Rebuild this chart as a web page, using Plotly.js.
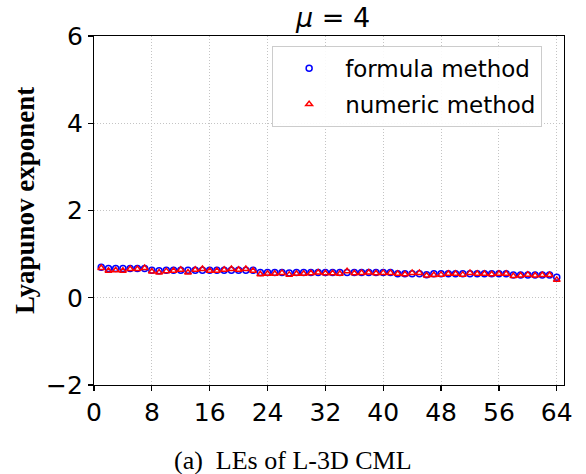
<!DOCTYPE html>
<html>
<head>
<meta charset="utf-8">
<script src="https://cdn.plot.ly/plotly-3.0.1.min.js"></script>
<style>html,body{margin:0;padding:0;background:#fff;}#chart{width:586px;height:474px;}</style>
</head>
<body>
<div id="chart"></div>
<script>
const idx = [];
for (let i = 1; i <= 64; i++) idx.push(i);
const formulaLE = [0.70,0.67,0.67,0.67,0.67,0.67,0.67,0.63,0.62,0.63,0.63,0.63,0.63,0.63,0.63,0.63,
0.63,0.63,0.63,0.63,0.63,0.63,0.58,0.58,0.58,0.58,0.57,0.58,0.58,0.58,0.58,0.58,
0.58,0.58,0.58,0.58,0.58,0.58,0.58,0.58,0.58,0.55,0.55,0.55,0.55,0.53,0.55,0.55,
0.55,0.55,0.55,0.55,0.55,0.55,0.55,0.55,0.55,0.52,0.52,0.52,0.52,0.52,0.52,0.47];
const numericLE = [0.68,0.62,0.63,0.62,0.66,0.66,0.68,0.60,0.58,0.61,0.62,0.64,0.58,0.64,0.66,0.62,
0.62,0.64,0.66,0.64,0.66,0.62,0.54,0.55,0.55,0.57,0.53,0.55,0.55,0.56,0.58,0.56,
0.56,0.55,0.61,0.56,0.57,0.58,0.56,0.57,0.57,0.55,0.54,0.57,0.57,0.51,0.52,0.53,
0.55,0.55,0.53,0.57,0.55,0.55,0.54,0.55,0.55,0.50,0.51,0.53,0.51,0.52,0.52,0.41];
const xTicks = [0,8,16,24,32,40,48,56,64];
const yTicks = [-2,0,2,4,6];
const yTickText = ['\u22122','0','2','4','6'];

const traces = [
  {x: idx, y: formulaLE, name: 'formula method', type: 'scatter', mode: 'markers', legendgroup: 'a',
   marker: {symbol: 'circle-open', size: 6, color: '#0000ff', line: {width: 1.5, color: '#0000ff'}}},
  {x: idx, y: numericLE, name: 'numeric method', type: 'scatter', mode: 'markers', legendgroup: 'b',
   marker: {symbol: 'triangle-up-open', size: 6, color: '#ff0000', line: {width: 1.5, color: '#ff0000'}}}
];

const axisCommon = {
  showline: true, linecolor: '#000', linewidth: 1.2, mirror: true,
  ticks: 'outside', ticklen: 5, tickwidth: 1.2, tickcolor: '#000',
  showgrid: true, gridcolor: '#c4c4c4', griddash: '1px,2px', gridwidth: 1,
  zeroline: false,
  tickfont: {family: 'DejaVu Sans', size: 25, color: '#000'}
};

const layout = {
  width: 586, height: 474,
  margin: {l: 94, r: 22, t: 36, b: 89},
  paper_bgcolor: '#fff', plot_bgcolor: '#fff',
  showlegend: true,
  title: {text: '<i>\u03bc</i> = 4', font: {family: 'DejaVu Sans', size: 27, color: '#000'},
          x: 0.5685, xanchor: 'center', y: 0.962, yanchor: 'middle'},
  xaxis: Object.assign({}, axisCommon, {range: [0, 65], tickvals: xTicks, ticktext: xTicks.map(String)}),
  yaxis: Object.assign({}, axisCommon, {range: [-2, 6], tickvals: yTicks, ticktext: yTickText}),
  legend: {x: 0.379, y: 0.972, xanchor: 'left', yanchor: 'top',
    bgcolor: 'rgba(255,255,255,0.9)', bordercolor: '#cccccc', borderwidth: 1,
    font: {family: 'DejaVu Sans', size: 23, color: '#000'},
    itemwidth: 62, traceorder: 'grouped', tracegroupgap: 3},
  annotations: [
    {text: '<b>Lyapunov exponent</b>', xref: 'paper', yref: 'paper', x: -0.1468, y: 0.527,
     xanchor: 'center', yanchor: 'middle', textangle: -90, showarrow: false,
     font: {family: 'Liberation Serif', size: 27, color: '#000'}},
    {text: '(a)\u00a0 LEs of L-3D CML', xref: 'paper', yref: 'paper', x: 0.423, y: -0.215,
     xanchor: 'center', yanchor: 'middle', showarrow: false,
     font: {family: 'Liberation Serif', size: 26, color: '#000'}}]
};

Plotly.newPlot('chart', traces, layout, {displayModeBar: false, staticPlot: true});
</script>
</body>
</html>
